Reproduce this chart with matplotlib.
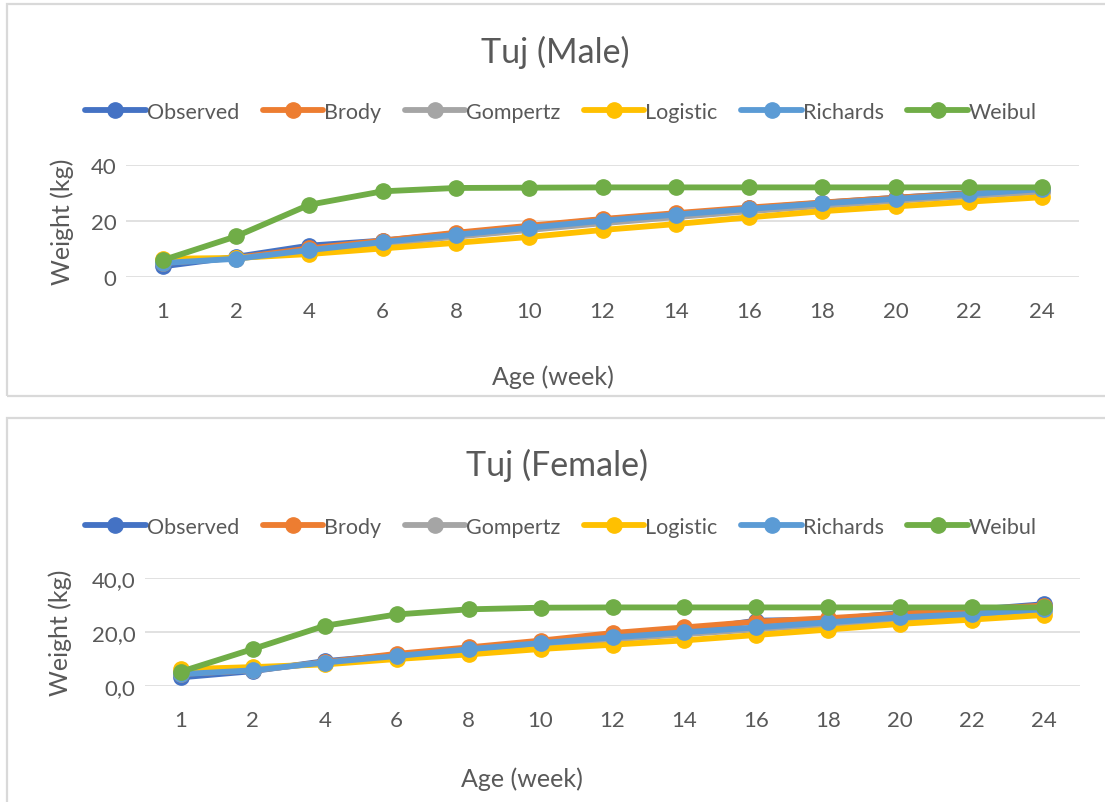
import matplotlib
matplotlib.use("Agg")
import matplotlib.pyplot as plt
from matplotlib.patches import Rectangle
from matplotlib.ticker import FuncFormatter

plt.rcParams['font.family'] = ['Lato', 'DejaVu Sans']

ages = ["1", "2", "4", "6", "8", "10", "12", "14", "16", "18", "20", "22", "24"]
series_names = ["Observed", "Brody", "Gompertz", "Logistic", "Richards", "Weibul"]
series_colors = ["#4472C4", "#ED7D31", "#A5A5A5", "#FFC000", "#5B9BD5", "#70AD47"]

# Male body weight (kg)
male_observed = [3.8, 7.2, 11.2, 13.0, 15.5, 18.0, 20.5, 22.5, 24.5, 26.5, 28.3, 30.0, 31.0]
male_brody = [5.0, 6.8, 10.2, 13.0, 15.8, 18.3, 20.7, 22.8, 24.8, 26.6, 28.3, 29.8, 31.2]
male_gompertz = [5.5, 6.6, 9.2, 11.8, 14.4, 16.8, 19.2, 21.4, 23.5, 25.4, 27.2, 28.9, 30.4]
male_logistic = [6.5, 6.8, 8.2, 10.2, 12.2, 14.3, 16.8, 18.9, 21.3, 23.5, 25.2, 26.9, 28.5]
male_richards = [5.0, 6.5, 9.6, 12.5, 15.1, 17.6, 20.1, 22.3, 24.3, 26.3, 27.9, 29.6, 31.4]
male_weibul = [6.0, 14.5, 25.8, 30.6, 31.8, 31.9, 32.0, 32.0, 32.0, 32.0, 32.0, 32.0, 32.0]

# Female body weight (kg)
female_observed = [3.2, 5.5, 9.2, 11.5, 13.8, 16.0, 18.4, 20.5, 24.2, 24.6, 27.0, 28.2, 30.3]
female_brody = [4.5, 5.8, 8.8, 11.9, 14.3, 16.8, 19.6, 21.7, 23.8, 25.1, 26.7, 28.3, 29.8]
female_gompertz = [5.0, 6.0, 8.6, 10.8, 13.0, 15.2, 17.2, 19.2, 21.0, 22.8, 24.6, 26.2, 27.7]
female_logistic = [6.2, 7.0, 8.0, 10.0, 11.7, 13.7, 15.3, 16.9, 18.9, 20.9, 23.0, 24.6, 26.3]
female_richards = [4.4, 5.8, 8.7, 11.1, 13.6, 15.9, 18.0, 19.9, 21.7, 23.6, 25.4, 26.7, 28.5]
female_weibul = [5.3, 13.7, 22.3, 26.5, 28.4, 29.0, 29.1, 29.1, 29.1, 29.1, 29.1, 29.1, 29.1]

male_series = [male_observed, male_brody, male_gompertz, male_logistic, male_richards, male_weibul]
female_series = [female_observed, female_brody, female_gompertz, female_logistic, female_richards, female_weibul]

TEXT = "#595959"
GRID = "#D9D9D9"
W, H = 1105, 803

fig = plt.figure(figsize=(W / 100, H / 100), dpi=100)


def px_box(x0, y0, x1, y1):
    """Convert a pixel box (top-left origin) to figure fraction [l, b, w, h]."""
    return [x0 / W, 1 - y1 / H, (x1 - x0) / W, (y1 - y0) / H]


# Chart frames
for (x0, y0, x1, y1) in [(7, 5, 1112, 397), (7, 419, 1112, 812)]:
    l, b, w, h = px_box(x0, y0, x1, y1)
    fig.add_artist(Rectangle((l, b), w, h, transform=fig.transFigure,
                             fill=False, edgecolor=GRID, lw=1.6, clip_on=False))


def draw_panel(box, series, title, fmt, title_xy, legend_xy, xlabel_xy, ylabel_x):
    ax = fig.add_axes(px_box(*box))
    x = list(range(len(ages)))
    for name, color, vals in zip(series_names, series_colors, series):
        ax.plot(x, vals, color=color, lw=4.2, marker="o", markersize=11,
                markeredgecolor=color, markerfacecolor=color, label=name,
                solid_capstyle="round", clip_on=False)
    ax.set_xlim(-0.5, len(ages) - 0.5)
    ax.set_ylim(0, 40)
    ax.set_yticks([0, 20, 40])
    ax.yaxis.set_major_formatter(FuncFormatter(fmt))
    ax.set_xticks(x)
    ax.set_xticklabels(ages)
    for s in ax.spines.values():
        s.set_visible(False)
    ax.grid(axis="y", color=GRID, lw=1.1)
    ax.set_axisbelow(True)
    ax.tick_params(axis="both", length=0, labelsize=16, colors=TEXT)
    ax.tick_params(axis="x", pad=17.5)
    ax.tick_params(axis="y", pad=7)

    fig.text(title_xy[0] / W, 1 - title_xy[1] / H, title,
             ha="center", va="center", fontsize=24.5, color=TEXT)
    fig.text(xlabel_xy[0] / W, 1 - xlabel_xy[1] / H, "Age (week)",
             ha="center", va="center", fontsize=18, color=TEXT)
    fig.text(ylabel_x / W, 1 - (box[1] + box[3]) / 2 / H, "Weight (kg)",
             ha="center", va="center", rotation=90, fontsize=18, color=TEXT)

    leg = ax.legend(loc="center", bbox_to_anchor=(legend_xy[0] / W, 1 - legend_xy[1] / H),
                    bbox_transform=fig.transFigure, ncol=6, frameon=False,
                    fontsize=15.5, handlelength=2.8, handletextpad=0.05,
                    columnspacing=1.1, borderaxespad=0)
    for t in leg.get_texts():
        t.set_color(TEXT)
    return ax


draw_panel((126, 166, 1079, 278), male_series, "Tuj (Male)",
           lambda v, p: f"{v:.0f}", (555, 52), (561, 113), (553, 377), 62)
draw_panel((145, 579, 1080, 687), female_series, "Tuj (Female)",
           lambda v, p: f"{v:.1f}".replace(".", ","), (557, 465), (561, 528), (522, 779), 60)

fig.savefig("out.png", dpi=100)
